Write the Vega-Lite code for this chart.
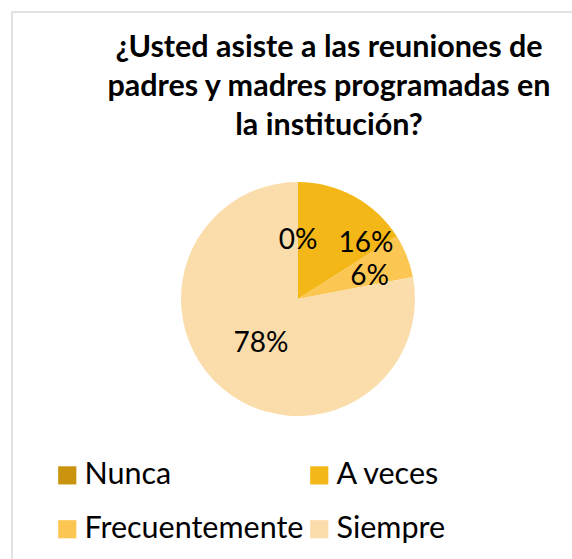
{
  "$schema": "https://vega.github.io/schema/vega-lite/v6.json",
  "width": 572,
  "height": 559,
  "autosize": {"type": "fit", "contains": "padding"},
  "padding": {"left": 12, "top": 12, "right": -12, "bottom": -27},
  "background": "white",
  "view": {"stroke": "#D9D9D9", "strokeWidth": 1.5, "fill": "white"},
  "title": {
    "text": ["¿Usted asiste a las reuniones de", "padres y madres programadas en", "la institución?"],
    "orient": "top",
    "anchor": "middle",
    "frame": "group",
    "offset": -129,
    "dx": 31,
    "font": "Lato",
    "fontSize": 30.5,
    "fontWeight": "bold",
    "lineHeight": 39,
    "color": "#000000"
  },
  "config": {
    "legend": {"padding": 0}
  },
  "data": {
    "values": [
      {"cat": "Nunca", "v": 0, "label": "0%", "o": 1},
      {"cat": "A veces", "v": 16, "label": "16%", "o": 2},
      {"cat": "Frecuentemente", "v": 6, "label": "6%", "o": 3},
      {"cat": "Siempre", "v": 78, "label": "78%", "o": 4}
    ]
  },
  "layer": [
    {
      "mark": {"type": "arc", "radius": 117},
      "encoding": {
        "theta": {"field": "v", "type": "quantitative", "stack": true},
        "order": {"field": "o", "type": "quantitative"},
        "color": {
          "field": "cat",
          "type": "nominal",
          "scale": {
            "domain": ["Nunca", "A veces", "Frecuentemente", "Siempre"],
            "range": ["#C9930E", "#F4B718", "#FCC653", "#FBDCAB"]
          },
          "legend": {
            "title": null,
            "orient": "none",
            "legendX": 40,
            "legendY": 448,
            "direction": "horizontal",
            "columns": 2,
            "symbolType": "square",
            "symbolSize": 330,
            "symbolStrokeWidth": 0,
            "symbolOpacity": 1,
            "labelFont": "Lato",
            "labelFontSize": 30.5,
            "labelColor": "#000000",
            "labelLimit": 0,
            "labelOffset": 2,
            "columnPadding": -5,
            "rowPadding": 23
          }
        }
      }
    },
    {
      "mark": {"type": "text", "font": "Lato", "fontSize": 28, "color": "#000000", "baseline": "middle", "align": "center", "radius": 58},
      "encoding": {
        "theta": {"field": "v", "type": "quantitative", "stack": true},
        "order": {"field": "o", "type": "quantitative"},
        "text": {"condition": {"test": "datum.cat === 'A veces' || datum.cat === 'Frecuentemente'", "value": ""}, "field": "label", "type": "nominal"}
      }
    },
    {
      "mark": {"type": "text", "font": "Lato", "fontSize": 28, "color": "#000000", "baseline": "middle", "align": "center", "dx": 39, "dy": -2, "radius": 60},
      "encoding": {
        "theta": {"field": "v", "type": "quantitative", "stack": true},
        "order": {"field": "o", "type": "quantitative"},
        "text": {"condition": {"test": "datum.cat !== 'A veces'", "value": ""}, "field": "label", "type": "nominal"}
      }
    },
    {
      "mark": {"type": "text", "font": "Lato", "fontSize": 28, "color": "#000000", "baseline": "middle", "align": "center", "dy": 6, "radius": 77},
      "encoding": {
        "theta": {"field": "v", "type": "quantitative", "stack": true},
        "order": {"field": "o", "type": "quantitative"},
        "text": {"condition": {"test": "datum.cat !== 'Frecuentemente'", "value": ""}, "field": "label", "type": "nominal"}
      }
    }
  ]
}
